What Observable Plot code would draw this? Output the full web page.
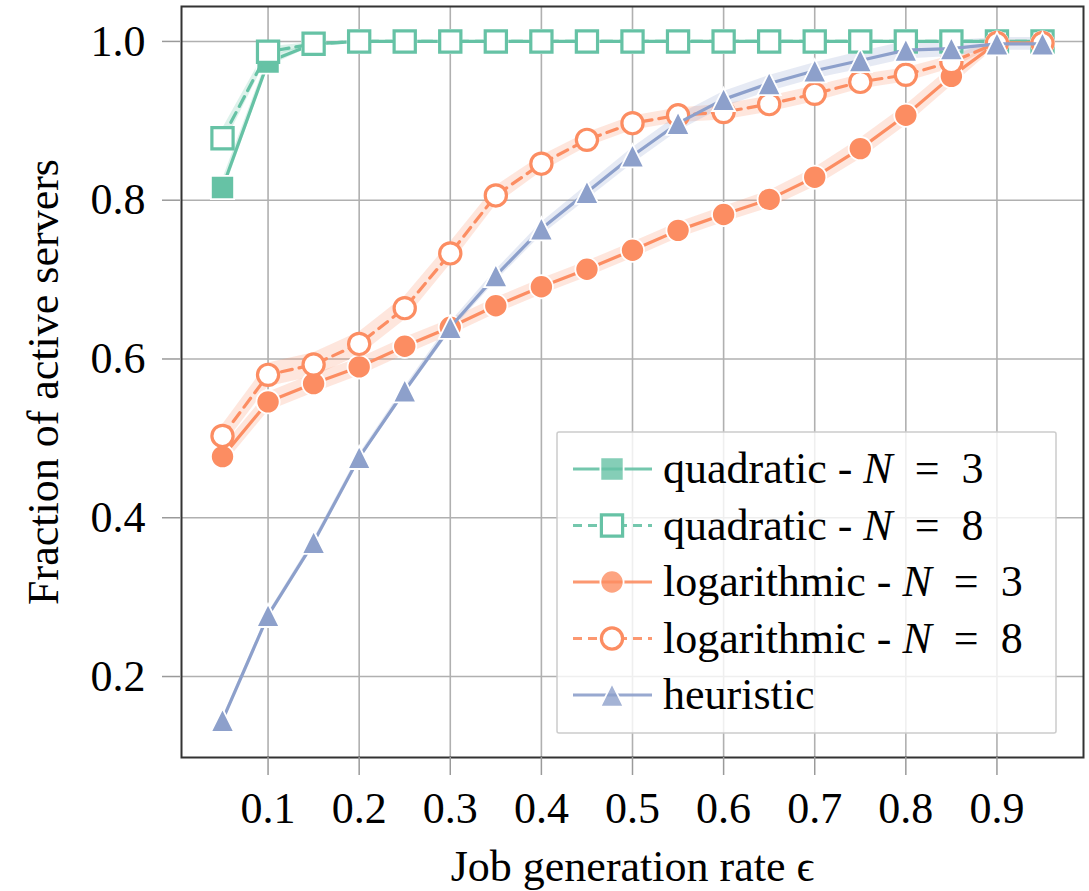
<!DOCTYPE html>
<html>
<head>
<meta charset="utf-8">
<script src="https://cdn.jsdelivr.net/npm/d3@7"></script>
<script src="https://cdn.jsdelivr.net/npm/@observablehq/plot@0.6"></script>
<style>
  html, body { margin: 0; padding: 0; background: #fff; }
</style>
</head>
<body>
<div id="chart"></div>
<script>
// Job generation rate ε (x values shared by every series)
const eps = [0.05, 0.10, 0.15, 0.20, 0.25, 0.30, 0.35, 0.40, 0.45, 0.50,
             0.55, 0.60, 0.65, 0.70, 0.75, 0.80, 0.85, 0.90, 0.95];

// Fraction of active servers per policy
const quadN3 = [0.816, 0.974, 0.997, 1.000, 1.000, 1.000, 1.000, 1.000, 1.000, 1.000,
                1.000, 1.000, 1.000, 1.000, 1.000, 1.000, 1.000, 1.000, 1.000];
const quadN8 = [0.878, 0.987, 0.997, 1.000, 1.000, 1.000, 1.000, 1.000, 1.000, 1.000,
                1.000, 1.000, 1.000, 1.000, 1.000, 1.000, 1.000, 1.000, 1.000];
const logN3  = [0.477, 0.546, 0.569, 0.590, 0.616, 0.640, 0.667, 0.691, 0.713, 0.737,
                0.762, 0.782, 0.801, 0.829, 0.865, 0.907, 0.956, 0.998, 0.998];
const logN8  = [0.503, 0.580, 0.593, 0.619, 0.664, 0.733, 0.806, 0.846, 0.876, 0.897,
                0.907, 0.911, 0.921, 0.934, 0.949, 0.958, 0.974, 0.998, 0.998];
const heur   = [0.145, 0.277, 0.369, 0.476, 0.560, 0.640, 0.705, 0.764, 0.810, 0.856,
                0.897, 0.927, 0.947, 0.963, 0.976, 0.989, 0.991, 0.997, 0.997];

// Half-width of the shaded confidence band at each ε
const quadN3Band = [0.010, 0.006, 0.002, 0, 0, 0, 0, 0, 0, 0, 0, 0, 0, 0, 0, 0, 0, 0, 0];
const quadN8Band = [0.012, 0.006, 0.002, 0, 0, 0, 0, 0, 0, 0, 0, 0, 0, 0, 0, 0, 0, 0, 0];
const logN3Band  = [0.012, 0.012, 0.012, 0.011, 0.011, 0.010, 0.010, 0.010, 0.010, 0.010,
                    0.010, 0.010, 0.011, 0.012, 0.013, 0.013, 0.012, 0.004, 0.003];
const logN8Band  = [0.014, 0.015, 0.015, 0.015, 0.015, 0.014, 0.012, 0.010, 0.009, 0.009,
                    0.009, 0.010, 0.010, 0.010, 0.009, 0.009, 0.008, 0.003, 0.003];
const heurBand   = [0.003, 0.003, 0.004, 0.004, 0.005, 0.006, 0.007, 0.008, 0.009, 0.010,
                    0.010, 0.010, 0.010, 0.010, 0.011, 0.011, 0.010, 0.008, 0.008];

const xTicks = [0.1, 0.2, 0.3, 0.4, 0.5, 0.6, 0.7, 0.8, 0.9];
const yTicks = [0.2, 0.4, 0.6, 0.8, 1.0];

const GREEN = "#66c2a5", ORANGE = "#fc8d62", BLUE = "#8da0cb";
const SERIF = "'Liberation Serif', 'Times New Roman', 'DejaVu Serif', serif";

// marker shapes sized by their half-extent r
const square = {
  draw(ctx, size) {
    const r = Math.sqrt(size / Math.PI);
    ctx.moveTo(-r, -r); ctx.lineTo(r, -r); ctx.lineTo(r, r); ctx.lineTo(-r, r); ctx.closePath();
  }
};
const circle = {
  draw(ctx, size) {
    const r = Math.sqrt(size / Math.PI);
    ctx.moveTo(r, 0); ctx.arc(0, 0, r, 0, 2 * Math.PI);
  }
};
const triangle = {
  draw(ctx, size) {
    const r = Math.sqrt(size / Math.PI);
    ctx.moveTo(0, -r); ctx.lineTo(r, r); ctx.lineTo(-r, r); ctx.closePath();
  }
};

const series = [
  {label: "quadratic - ",   n: "3", values: quadN3, band: quadN3Band, color: GREEN,  symbol: square,   open: false, dash: null},
  {label: "quadratic - ",   n: "8", values: quadN8, band: quadN8Band, color: GREEN,  symbol: square,   open: true,  dash: "11,7"},
  {label: "logarithmic - ", n: "3", values: logN3,  band: logN3Band,  color: ORANGE, symbol: circle,   open: false, dash: null},
  {label: "logarithmic - ", n: "8", values: logN8,  band: logN8Band,  color: ORANGE, symbol: circle,   open: true,  dash: "11,7"},
  {label: "heuristic",      n: null, values: heur,  band: heurBand,   color: BLUE,   symbol: triangle, open: false, dash: null}
];
series.forEach(s => { s.rows = eps.map((x, i) => ({x, y: s.values[i], b: s.band[i]})); });

const R_FILLED = 11.6, R_OPEN = 10.6;
const dotOpts = s => s.open
  ? {x: "x", y: "y", symbol: s.symbol, r: R_OPEN, fill: "white", stroke: s.color, strokeWidth: 3.2}
  : {x: "x", y: "y", symbol: s.symbol, r: R_FILLED, fill: s.color, stroke: "white", strokeWidth: 1.8};

const marks = [
  Plot.gridX(xTicks, {stroke: "#b0b0b0", strokeOpacity: 1, strokeWidth: 1.6}),
  Plot.gridY(yTicks, {stroke: "#b0b0b0", strokeOpacity: 1, strokeWidth: 1.6}),
  ...series.map(s => Plot.areaY(s.rows, {
    x: "x", y1: d => d.y - d.b, y2: d => d.y + d.b,
    fill: s.color, fillOpacity: 0.22
  })),
  ...series.flatMap(s => [
    Plot.line(s.rows, {x: "x", y: "y", stroke: s.color, strokeWidth: 3.2, strokeDasharray: s.dash}),
    Plot.dot(s.rows, dotOpts(s))
  ]),
  Plot.frame({stroke: "#333", strokeWidth: 2}),
  Plot.axisX({ticks: xTicks, tickSize: 18, tickPadding: 16, stroke: "#9a9a9a", strokeWidth: 1.5,
              fill: "black", fontSize: 44, tickFormat: d => d.toFixed(1), label: null}),
  Plot.axisY({ticks: yTicks, tickSize: 19, tickPadding: 17, stroke: "#9a9a9a", strokeWidth: 1.5,
              fill: "black", fontSize: 44, tickFormat: d => d.toFixed(1), label: null}),
  Plot.text(["Job generation rate \u03F5"], {frameAnchor: "bottom", textAnchor: "middle", lineAnchor: "middle",
              dy: 109, fontSize: 44}),
  Plot.text(["Fraction of active servers"], {frameAnchor: "left", textAnchor: "middle", lineAnchor: "middle",
              rotate: -90, dx: -138, fontSize: 44})
];

const chart = Plot.plot({
  width: 1089,
  height: 891,
  marginLeft: 181,
  marginRight: 6,
  marginTop: 6,
  marginBottom: 134,
  style: {fontFamily: SERIF, background: "white", color: "black"},
  x: {domain: [0.005, 0.995]},
  y: {domain: [0.098, 1.044]},
  marks
});

// legend box drawn inside the plot area
const svg = d3.select(chart);
const lg = svg.append("g")
  .attr("font-family", SERIF).attr("font-size", 44).attr("text-anchor", "start");
lg.append("rect")
  .attr("x", 557).attr("y", 432).attr("width", 499).attr("height", 301)
  .attr("rx", 2)
  .attr("fill", "white").attr("fill-opacity", 0.8)
  .attr("stroke", "#cccccc").attr("stroke-width", 1.5);

series.forEach((s, i) => {
  const cy = 469 + i * 56.5;
  lg.append("line")
    .attr("x1", 573).attr("x2", 652).attr("y1", cy).attr("y2", cy)
    .attr("stroke", s.color).attr("stroke-width", 3)
    .attr("stroke-dasharray", s.dash ? "9,6" : null)
    .attr("opacity", 0.9);
  const p = d3.path();
  const r = s.open ? R_OPEN : R_FILLED;
  s.symbol.draw(p, Math.PI * r * r);
  lg.append("path")
    .attr("d", p.toString())
    .attr("transform", `translate(612,${cy})`)
    .attr("fill", s.open ? "white" : s.color)
    .attr("fill-opacity", s.open ? 1 : 0.8)
    .attr("stroke", s.open ? s.color : "white")
    .attr("stroke-width", s.open ? 3.2 : 1.8);
  const t = lg.append("text").attr("x", 663).attr("y", cy).attr("dy", "0.32em").attr("fill", "black");
  t.append("tspan").text(s.label);
  if (s.n) {
    t.append("tspan").attr("font-style", "italic").text("N");
    t.append("tspan").attr("dx", "0.5em").text("=");
    t.append("tspan").attr("dx", "0.5em").text(s.n);
  }
});

document.getElementById("chart").appendChild(chart);
</script>
</body>
</html>
